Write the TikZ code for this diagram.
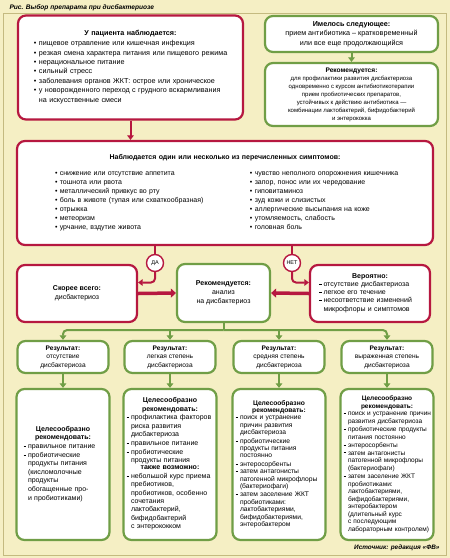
\documentclass[tikz,border=0pt]{standalone}
\usepackage{fontspec}
\setmainfont{Liberation Sans}
\usetikzlibrary{arrows.meta,positioning}
\definecolor{paper}{RGB}{245,239,196}
\definecolor{frameline}{RGB}{196,186,128}
\definecolor{crim}{RGB}{182,24,64}
\definecolor{leaf}{RGB}{112,158,70}
\newcommand\hdr[1]{{\centering\bfseries#1\par}}
\newcommand\bitem[1]{\par\noindent\makebox[5pt][l]{•}\begin{tabular}[t]{@{}l@{}}#1\end{tabular}\par}
\newcommand\ditem[1]{\par\noindent\makebox[4.5pt][l]{\rule[1.6pt]{2.6pt}{1pt}}\begin{tabular}[t]{@{}l@{}}#1\end{tabular}\par}
\tikzset{box/.style={rounded corners=8pt,line width=2.2pt,fill=white,inner ysep=2pt}, redbox/.style={box,draw=crim}, grnbox/.style={box,draw=leaf}, resbox/.style={grnbox,minimum width=91pt,minimum height=32pt,align=center,font=\fontsize{6.6}{8.5}\selectfont}, recbox/.style={grnbox,minimum width=93pt,minimum height=151pt,text width=87pt,inner xsep=3pt}, redarr/.style={draw=crim,line width=2pt,-{Triangle[length=4.5pt,width=6.5pt]}}, grnarr/.style={draw=leaf,line width=2pt,-{Triangle[length=4.5pt,width=6.5pt]}}, bigarr/.style={draw=crim,line width=3.5pt,-{Triangle[length=5pt,width=9pt]}}, yesno/.style={circle,draw=crim,line width=1.4pt,fill=white,minimum size=17pt,inner sep=0pt,font=\fontsize{5.5}{6}\selectfont}}

\begin{document}
\begin{tikzpicture}[x=1pt,y=-1pt]
\useasboundingbox (0,0) rectangle (450,558);
\fill[paper] (0,0) rectangle (450,558);
\draw[frameline,line width=0.8pt] (3,13.5) rectangle (446,555);
\node[anchor=west,font=\fontsize{6.6}{8}\selectfont\bfseries\itshape] (ttl) at (6,7.5) {Рис. Выбор препарата при дисбактериозе};
\node[anchor=east,font=\fontsize{6.4}{8}\selectfont\bfseries\itshape] (src) at (443,547.5) {Источник: редакция «ФВ»};

\node[redbox,minimum width=225pt,minimum height=104pt,text width=193pt,inner xsep=16pt,font=\fontsize{7.2}{9.4}\selectfont] (obs) at (130.5,67.5) {\hdr{У пациента наблюдается:}\vspace{1pt}\bitem{пищевое отравление или кишечная инфекция}\bitem{резкая смена характера питания или пищевого режима}\bitem{нерациональное питание}\bitem{сильный стресс}\bitem{заболевания органов ЖКТ: острое или хроническое}\bitem{у новорожденного переход с грудного вскармливания\\на искусственные смеси}};
\node[grnbox,minimum width=173pt,minimum height=36pt,align=center,font=\fontsize{7.2}{9.3}\selectfont] (ant) at (351.5,34) {\textbf{Имелось следующее:}\\прием антибиотика – кратковременный\\или все еще продолжающийся};
\node[grnbox,minimum width=173pt,minimum height=63pt,align=center,font=\fontsize{6}{8}\selectfont] (rec0) at (351.5,94.5) {{\fontsize{6.6}{8}\selectfont\textbf{Рекомендуется:}}\\для профилактики развития дисбактериоза\\одновременно с курсом антибиотикотерапии\\прием пробиотических препаратов,\\устойчивых к действию антибиотика —\\комбинации лактобактерий, бифидобактерий\\и энтерококка};

\node[redbox,minimum width=416pt,minimum height=104pt,text width=340pt,inner xsep=38pt,font=\fontsize{7}{9}\selectfont] (sym) at (225,193) {\hdr{Наблюдается один или несколько из перечисленных симптомов:}\vspace{7pt}\noindent\makebox[195pt][l]{\begin{tabular}[t]{@{}l@{}}• снижение или отсутствие аппетита\\• тошнота или рвота\\• металлический привкус во рту\\• боль в животе (тупая или схваткообразная)\\• отрыжка\\• метеоризм\\• урчание, вздутие живота\end{tabular}}\begin{tabular}[t]{@{}l@{}}• чувство неполного опорожнения кишечника\\• запор, понос или их чередование\\• гиповитаминоз\\• зуд кожи и слизистых\\• аллергические высыпания на коже\\• утомляемость, слабость\\• головная боль\end{tabular}\par\vspace{5pt}};

\node[yesno] (da) at (155,263) {ДА};
\node[yesno] (net) at (292,263) {НЕТ};
\node[redbox,minimum width=120pt,minimum height=57pt,align=center,font=\fontsize{7}{9}\selectfont] (yes) at (77,293.5) {\textbf{Скорее всего:}\\дисбактериоз};
\node[grnbox,minimum width=93pt,minimum height=58pt,align=center,font=\fontsize{7}{9}\selectfont] (anl) at (223.5,293) {\textbf{Рекомендуется:}\\анализ\\на дисбактериоз};
\node[redbox,minimum width=120pt,minimum height=57pt,text width=102pt,inner xsep=9pt,font=\fontsize{7}{8.3}\selectfont] (prob) at (370,293.5) {\hdr{Вероятно:}\ditem{отсутствие дисбактериоза}\ditem{легкое его течение}\ditem{несоответствие изменений\\микрофлоры и симптомов}};

\node[resbox] (res1) at (63,357) {\textbf{Результат:}\\отсутствие\\дисбактериоза};
\node[resbox] (res2) at (170,357) {\textbf{Результат:}\\легкая степень\\дисбактериоза};
\node[resbox] (res3) at (279,357) {\textbf{Результат:}\\средняя степень\\дисбактериоза};
\node[resbox] (res4) at (387,357) {\textbf{Результат:}\\выраженная степень\\дисбактериоза};

\node[recbox,text width=79pt,inner xsep=7pt,font=\fontsize{7}{8.6}\selectfont] (rec1) at (63,464.5) {\hdr{Целесообразно\\рекомендовать:}\ditem{правильное питание}\ditem{пробиотические\\продукты питания\\(кисломолочные\\продукты\\обогащенные про-\\и пробиотиками)}};
\node[recbox,font=\fontsize{7}{8.4}\selectfont] (rec2) at (170,464.5) {\hdr{Целесообразно\\рекомендовать:}\ditem{профилактика факторов\\риска развития\\дисбактериоза}\ditem{правильное питание}\ditem{пробиотические\\продукты питания}\hdr{также возможно:}\ditem{небольшой курс приема\\пребиотиков,\\пробиотиков, особенно\\сочетания\\лактобактерий,\\бифидобактерий\\с энтерококком}};
\node[recbox,font=\fontsize{6.7}{7.4}\selectfont] (rec3) at (279,464.5) {\hdr{Целесообразно\\рекомендовать:}\ditem{поиск и устранение\\причин развития\\дисбактериоза}\ditem{пробиотические\\продукты питания\\постоянно}\ditem{энтеросорбенты}\ditem{затем антагонисты\\патогенной микрофлоры\\(бактериофаги)}\ditem{затем заселение ЖКТ\\пробиотиками:\\лактобактериями,\\бифидобактериями,\\энтеробактером}};
\node[recbox,font=\fontsize{6.5}{7.5}\selectfont] (rec4) at (387,464.5) {\hdr{Целесообразно\\рекомендовать:}\ditem{поиск и устранение причин\\развития дисбактериоза}\ditem{пробиотические продукты\\питания постоянно}\ditem{энтеросорбенты}\ditem{затем антагонисты\\патогенной микрофлоры\\(бактериофаги)}\ditem{затем заселение ЖКТ\\пробиотиками:\\лактобактериями,\\бифидобактериями,\\энтеробактером\\(длительный курс\\с последующим\\лабораторным контролем)}};

\draw[redarr] (obs.south) -- (obs.south |- sym.north);
\draw[grnarr] (ant.south) -- (rec0.north);
\draw[crim,line width=2pt] (sym.south -| da) -- (da.north);
\draw[crim,line width=2pt] (sym.south -| net) -- (net.north);
\draw[redarr,rounded corners=4pt] (da.south) |- ([yshift=11pt]yes.east);
\draw[redarr,rounded corners=4pt] (net.south) |- ([yshift=11pt]prob.west);
\draw[bigarr] (yes.east) -- (anl.west);
\draw[bigarr] (prob.west) -- (anl.east);
\coordinate (bus) at ([yshift=-7pt]anl.south);
\draw[leaf,line width=2pt] (anl.south) -- (bus);
\draw[grnarr,rounded corners=4pt] (bus) -| (res1.north);
\draw[grnarr,rounded corners=4pt] (bus) -| (res4.north);
\draw[grnarr] (bus -| res2) -- (res2.north);
\draw[grnarr] (bus -| res3) -- (res3.north);
\foreach \i in {1,...,4} \draw[grnarr] (res\i.south) -- (rec\i.north);
\end{tikzpicture}
\end{document}
